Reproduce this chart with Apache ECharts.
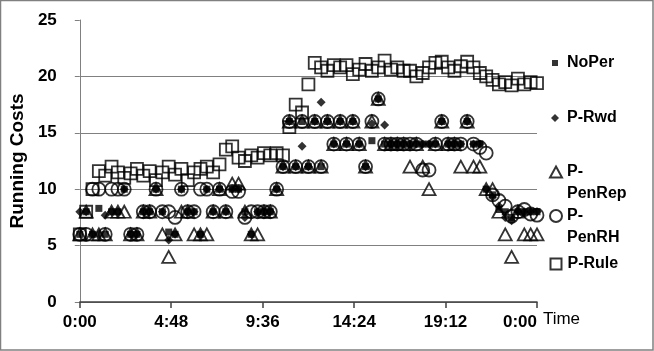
<!DOCTYPE html>
<html>
<head>
<meta charset="utf-8">
<script src="https://cdn.jsdelivr.net/npm/echarts@6/dist/echarts.min.js"></script>
<style>
  html, body { margin: 0; padding: 0; background: #fff; }
  #chart { width: 654px; height: 351px; }
</style>
</head>
<body>
<div id="chart"></div>
<script>
// time of day in minutes (one sample every 20 min)
const times = [
  0, 20, 40, 60, 80, 100, 120, 140, 160, 180, 200, 220, 240, 260, 280, 300,
  320, 340, 360, 380, 400, 420, 440, 460, 480, 500, 520, 540, 560, 580, 600,
  620, 640, 660, 680, 700, 720, 740, 760, 780, 800, 820, 840, 860, 880, 900,
  920, 940, 960, 980, 1000, 1020, 1040, 1060, 1080, 1100, 1120, 1140, 1160,
  1180, 1200, 1220, 1240, 1260, 1280, 1300, 1320, 1340, 1360, 1380, 1400,
  1420, 1440
];

const noPer = [
  6, 8, 6, 8.3, 6, 8, 8, 10, 6, 6, 8, 8, 10, 8, 6.2, 6, 10, 8, 8, 6, 10, 8, 10, 8, 10,
  10, 8, 6, 8, 8, 8, 10, 12, 16, 12, 16, 12, 16, 12, 16, 14, 16, 14, 16, 14, 12, 14.3, 18, 14,
  14, 14, 14, 14, 14, 14, 14, 14, 16, 14, 14, 14, 16, 14, 14, 10, 9.5, 8.2, 8, 7.5, 8, 8, 8, 8
];

const pRwd = [
  8, 8, 6, 6, 7.7, 8, 8, 10, 6, 6, 8, 8, 10, 8, 5.5, 6, 10, 8, 8, 6, 10, 8, 10, 8, 10,
  10, 7.5, 6, 8, 8, 8, 10, 12, 16, 12, 13.8, 12, 16, 17.7, 16, 14, 16, 14, 16, 14, 12, 15.8, 18, 15.7,
  14, 14, 14, 14, 14, 14, 14, 14, 16, 14, 14, 14, 16, 14, 14, 10, 9.3, 8.5, 7.5, 7.2, 8, 8, 8, 8
];

const pPenRep = [
  6, 8, 6, 6, 6, 8, 8, 8, 6, 6, 8, 8, 10, 6, 4, 6, 8, 8, 6, 6, 6, 8, 10, 8, 10.5,
  10.5, 8, 6, 6, 8, 8, 10, 12, 16, 12, 16, 12, 16, 12, 16, 14, 16, 14, 16, 14, 12, 16, 18, 14,
  14, 14, 14, 12, 14, 12, 10, 14, 16, 14, 14, 12, 16, 12, 12, 10, 10, 8, 6, 4, 8, 6, 6, 6
];

const pPenRH = [
  6, 6, 10, 10, 6, 10, 10, 10, 6, 6, 8, 8, 10, 8, 8, 7.5, 10, 8, 8, 10, 10, 8, 10, 8, 9.8,
  9.8, 7.5, 8, 8, 8, 8, 10, 12, 16, 12, 16, 12, 16, 12, 16, 14, 16, 14, 16, 14, 12, 16, 18, 14,
  14, 14, 14, 14, 14, 11.7, 11.7, 14, 16, 14, 14, 14, 16, 14, 13.7, 13.2, 9.5, 9, 8.5, 7.6, 8, 8.2, 7.8, 7.7
];

const pRule = [
  6, 8, 10, 11.6, 11.2, 12, 11.5, 11, 11.4, 11.8, 11.2, 11.6, 10.8, 11.5, 12, 11.3, 11.8, 10.8,
  11.5, 11.8, 12, 11.5, 12.2, 13.5, 13.8, 12.8, 12.5, 13, 12.8, 13.2, 13, 13.2, 13, 15.5, 17.5,
  16.8, 19.3, 21.2, 20.8, 20.5, 21, 20.8, 21, 20.2, 20.6, 21.1, 20.5, 20.8, 21.4, 20.6, 20.8,
  20.5, 20.5, 20, 20.3, 20.8, 21.2, 21.3, 20.8, 20.5, 20.9, 21.3, 20.8, 20.3, 20, 19.7, 19.3,
  19.5, 19.2, 19.8, 19.3, 19.5, 19.4
];

const xTickLabels = ['0:00', '4:48', '9:36', '14:24', '19:12', '0:00'];

const FONT = '"Liberation Sans", Arial, sans-serif';
const pair = (ys) => ys.map((y, i) => [times[i], y]);

const markers = [
  { name: 'NoPer', data: noPer, symbol: 'rect', size: 7, filled: true },
  { name: 'P-Rwd', data: pRwd, symbol: 'diamond', size: 9, filled: true },
  { name: 'P-PenRep', data: pPenRep, symbol: 'triangle', size: [13, 12], filled: false },
  { name: 'P-PenRH', data: pPenRH, symbol: 'circle', size: 13, filled: false },
  { name: 'P-Rule', data: pRule, symbol: 'rect', size: 12, filled: false },
];

// legend placement: [centre y of first line, icon w, icon h, text left pad, two lines]
const LH = 22;
const legendPos = {
  'NoPer': [63, 6, 6, 4, false],
  'P-Rwd': [118, 8, 8, 3, false],
  'P-PenRep': [172, 12, 11, 0, true],
  'P-PenRH': [216, 12, 12, 0, true],
  'P-Rule': [264, 11, 11, 1, false],
};

const legends = markers.map((m) => {
  const [cy, w, h, pad, two] = legendPos[m.name];
  return {
    data: [m.name],
    orient: 'vertical',
    left: 549 + (12 - w) / 2,
    // two-line entries get an empty first line so the icon sits beside "P-"
    top: two ? cy - LH * 1.5 : cy - LH / 2,
    padding: 0,
    itemWidth: w,
    itemHeight: h,
    selectedMode: false,
    formatter: (n) => (two ? '\n' + n.replace('-', '-\n') : n),
    textStyle: {
      fontFamily: FONT,
      fontSize: 16,
      fontWeight: 'bold',
      color: '#000',
      lineHeight: LH,
      padding: [0, 0, 0, pad],
    },
  };
});

const chart = echarts.init(document.getElementById('chart'), null, { renderer: 'canvas' });

chart.setOption({
  animation: false,
  backgroundColor: '#fff',
  grid: { left: 77, right: 117, top: 20, bottom: 49 },
  legend: legends,
  graphic: [
    {
      type: 'rect',
      shape: { x: 0.5, y: 0.5, width: 652.5, height: 349.5 },
      style: { fill: 'none', stroke: '#808080', lineWidth: 1.5 },
      silent: true,
    },
  ],
  xAxis: {
    type: 'value',
    min: 0,
    max: 1440,
    interval: 288,
    name: 'Time',
    nameLocation: 'end',
    nameGap: 2,
    nameTextStyle: {
      fontFamily: FONT,
      fontSize: 17,
      color: '#000',
      verticalAlign: 'top',
      padding: [9, 0, 0, 0],
    },
    axisLine: { lineStyle: { color: '#404040', width: 1.5 } },
    axisTick: { show: true, inside: false, length: 6, lineStyle: { color: '#404040', width: 1.5 } },
    axisLabel: {
      margin: 12,
      fontFamily: FONT,
      fontSize: 17,
      fontWeight: 'bold',
      color: '#000',
      alignMaxLabel: 'right',
      formatter: (v) => xTickLabels[Math.round(v / 288)],
    },
    splitLine: { show: false },
  },
  yAxis: {
    type: 'value',
    min: 0,
    max: 25,
    interval: 5,
    name: 'Running Costs',
    nameLocation: 'middle',
    nameRotate: 90,
    nameGap: 46,
    nameTextStyle: { fontFamily: FONT, fontSize: 19, fontWeight: 'bold', color: '#000' },
    axisLine: { show: true, lineStyle: { color: '#808080', width: 1 } },
    axisTick: { show: true, inside: false, length: 5, lineStyle: { color: '#808080' } },
    axisLabel: { margin: 23, fontFamily: FONT, fontSize: 17, fontWeight: 'bold', color: '#000' },
    splitLine: {
      show: true,
      lineStyle: {
        color: ['#808080', '#808080', '#808080', '#808080', '#808080', 'transparent'],
        width: 1,
      },
    },
  },
  series: markers.map((m) => ({
    name: m.name,
    type: 'scatter',
    data: pair(m.data),
    symbol: m.symbol,
    symbolSize: m.size,
    itemStyle: m.filled
      ? { color: '#000', borderColor: '#000', borderWidth: 0 }
      : { color: 'transparent', borderColor: '#000', borderWidth: 1.8 },
    emphasis: { disabled: true },
  })),
});
</script>
</body>
</html>
